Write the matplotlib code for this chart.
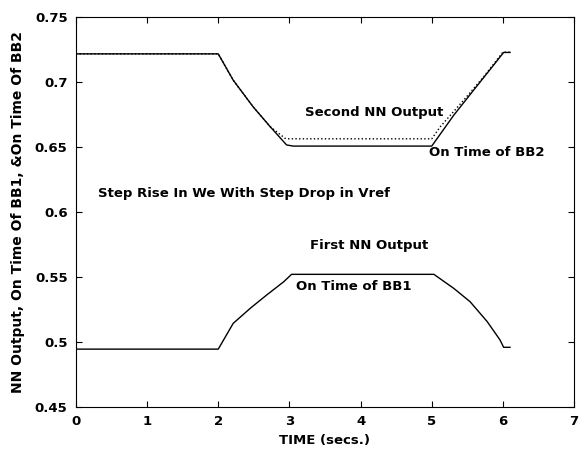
import matplotlib
matplotlib.use("Agg")
from matplotlib import pyplot as plt

plt.rcParams['font.family'] = ['DejaVu Sans']
plt.rcParams['font.weight'] = 'bold'

# On Time of BB2 (solid)
t_bb2 = [0, 2.0, 2.21, 2.49, 2.73, 2.96, 3.05, 5.0, 5.31, 5.59, 5.87, 6.01, 6.1]
bb2 = [0.7215, 0.7215, 0.7013, 0.6808, 0.6655, 0.6515, 0.6506, 0.6506, 0.6744, 0.6937, 0.7129, 0.7226, 0.7226]

# Second NN Output (dotted)
t_nn2 = [0, 2.0, 2.21, 2.49, 2.73, 2.94, 3.0, 5.0, 5.12, 5.45, 5.73, 6.0, 6.1]
nn2 = [0.7215, 0.7215, 0.7013, 0.6808, 0.6655, 0.6565, 0.6562, 0.6562, 0.6655, 0.686, 0.7039, 0.7228, 0.7228]

# On Time of BB1 / First NN Output
t_bb1 = [0, 2.0, 2.21, 2.45, 2.68, 2.92, 3.03, 5.03, 5.31, 5.54, 5.78, 5.96, 6.01, 6.1]
bb1 = [0.4945, 0.4945, 0.5143, 0.5259, 0.5361, 0.5463, 0.552, 0.552, 0.5412, 0.5309, 0.5156, 0.5015, 0.4959, 0.4959]

fig = plt.figure(figsize=(5.84, 4.54), dpi=100)
ax = fig.add_axes([0.130, 0.1035, 0.853, 0.8595])

ax.plot(t_bb2, bb2, color='black', linewidth=1.0)
ax.plot(t_nn2, nn2, color='black', linewidth=1.0, linestyle=':')
ax.plot(t_bb1, bb1, color='black', linewidth=1.0)

txt = dict(fontsize=9.5, fontweight='bold', va='center', ha='left')
ax.text(3.22, 0.6767, "Second NN Output", **txt)
ax.text(4.96, 0.646, "On Time of BB2", **txt)
ax.text(0.31, 0.6145, "Step Rise In We With Step Drop in Vref", **txt)
ax.text(3.29, 0.5745, "First NN Output", **txt)
ax.text(3.09, 0.5425, "On Time of BB1", **txt)

ax.set_xlim(0, 7)
ax.set_ylim(0.45, 0.75)
ax.set_xticks([0, 1, 2, 3, 4, 5, 6, 7])
ax.set_yticks([0.45, 0.5, 0.55, 0.6, 0.65, 0.7, 0.75])
ax.set_yticklabels(['0.45', '0.5', '0.55', '0.6', '0.65', '0.7', '0.75'])
ax.tick_params(direction='in', top=True, right=True, length=4, width=0.8,
               labelsize=9.5, pad=6)
for lab in ax.get_xticklabels() + ax.get_yticklabels():
    lab.set_fontweight('bold')

ax.set_xlabel("TIME (secs.)", fontsize=9.5, fontweight='bold', labelpad=4)
ax.set_ylabel("NN Output, On Time Of BB1, &On Time Of BB2", fontsize=10,
              fontweight='bold', labelpad=7)

fig.savefig("out.png", dpi=100)
